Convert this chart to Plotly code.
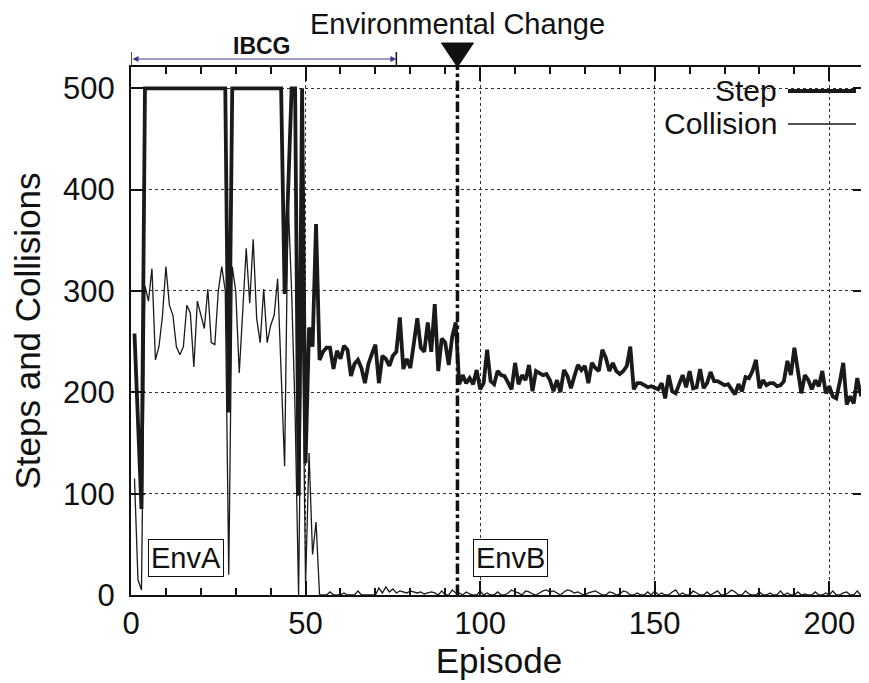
import plotly.graph_objects as go

# ---------------- data ----------------
step_envA = [258, 170, 85] + [500] * 24 + [180] + [500] * 15 + [297, 388, 500, 500, 98, 500, 130]
step_mid = [264, 245, 366, 232, 240, 244, 244, 223, 241, 233,
            246, 242, 216, 228, 232, 224, 209, 228, 238, 247,
            209, 236, 233, 226, 236, 240, 274, 223, 233, 224,
            248, 273, 244, 240, 269, 240, 287, 221, 253, 249,
            227, 255, 269]
step_envB = [208, 217, 209, 214, 208, 222, 203, 209, 242, 211,
             208, 221, 217, 216, 209, 203, 229, 208, 217, 212,
             227, 201, 221, 219, 217, 218, 212, 201, 212, 200,
             222, 216, 204, 216, 227, 222, 226, 209, 229, 224,
             221, 242, 234, 221, 229, 221, 218, 221, 226, 245,
             203, 209, 209, 207, 205, 206, 204, 203, 209, 194,
             217, 201, 199, 209, 217, 205, 221, 204, 205, 223,
             204, 209, 220, 211, 211, 209, 207, 208, 203, 198,
             208, 201, 215, 214, 221, 232, 204, 212, 207, 209,
             209, 206, 207, 211, 231, 217, 244, 219, 199, 217,
             212, 203, 212, 206, 221, 199, 206, 196, 194, 210,
             229, 188, 196, 189, 214, 198, 199]

coll_early = [115, 15, 5, 305, 290, 322, 232, 245, 275, 324,
              286, 276, 245, 237, 245, 286, 278, 225, 290, 275,
              263, 302, 249, 247, 300, 324, 300, 20, 324, 300,
              219, 280, 342, 288, 351, 273, 249, 302, 249, 266,
              276, 312, 220, 127, 390, 300, 180, 0, 300, 10,
              140, 40, 72, 0]
coll_mid = [0, 0, 3, 0, 0, 0, 2, 0, 0, 0,
            4, 0, 0, 0, 0, 0, 7, 2, 8, 3,
            6, 2, 4, 3, 2, 4, 3, 2, 3, 1,
            2, 3, 2, 0, 4, 0, 0, 5, 2]
coll_envB = [2, 0, 3, 1, 0, 0, 4, 0, 2, 0,
             0, 3, 0, 0, 2, 5, 3, 2, 0, 4,
             3, 1, 0, 2, 4, 5, 3, 4, 2, 0,
             3, 5, 4, 2, 3, 1, 0, 2, 3, 4,
             2, 0, 0, 3, 2, 0, 1, 4, 3, 0,
             0, 2, 0, 0, 3, 0, 4, 0, 2, 0,
             0, 3, 5, 0, 2, 0, 0, 4, 2, 0,
             0, 3, 0, 2, 4, 0, 0, 2, 5, 3,
             0, 0, 4, 1, 0, 0, 3, 0, 0, 2,
             0, 0, 4, 0, 2, 0, 0, 3, 0, 1,
             0, 0, 3, 0, 0, 2, 0, 4, 0, 0,
             2, 3, 0, 0, 4, 0, 2]

steps = step_envA + step_mid + step_envB
collisions = coll_early + coll_mid + coll_envB
episodes = list(range(1, len(steps) + 1))

change_episode = 93.5
ibcg_end = 76
x_ticks = [0, 50, 100, 150, 200]
y_ticks = [0, 100, 200, 300, 400, 500]

FONT = "Liberation Sans, Arial, sans-serif"
# page body has an 8px margin, so the figure is sized to fill the window from there
W, H = 861, 675
L, R, T, B = 123, 2, 59, 88
plot_w = W - L - R
plot_h = H - T - B

def py(ref_y):  # reference pixel y -> paper y
    return (595 - ref_y) / plot_h

def px_(ref_x):  # reference pixel x -> paper x
    return (ref_x - 131) / plot_w

fig = go.Figure()
fig.add_trace(go.Scatter(x=episodes, y=collisions, mode="lines", name="Collision",
                         line=dict(color="#1a1a1a", width=1.3), showlegend=False))
fig.add_trace(go.Scatter(x=episodes, y=steps, mode="lines", name="Step",
                         line=dict(color="#1a1a1a", width=3.8), showlegend=False))

# environmental change line
fig.add_shape(type="line", xref="x", yref="paper", x0=change_episode, x1=change_episode,
              y0=0, y1=1, line=dict(color="#111", width=3.5, dash="dashdot"), layer="above")
# triangle marker
tri_w = 16 / 3.485
fig.add_shape(type="path", xref="x", yref="paper",
              path=f"M {change_episode - tri_w},{py(43)} L {change_episode + tri_w},{py(43)} L {change_episode},{py(67)} Z",
              fillcolor="#111", line=dict(color="#111", width=1))
fig.add_annotation(x=change_episode, y=py(24), xref="x", yref="paper", text="Environmental Change",
                   showarrow=False, yanchor="middle", xanchor="center", borderpad=0,
                   font=dict(size=29, family=FONT, color="#111"))

# IBCG range marker
fig.add_annotation(x=ibcg_end, y=py(59), xref="x", yref="paper",
                   ax=0, ay=0, axref="x", ayref="pixel",
                   showarrow=True, arrowhead=2, startarrowhead=2, arrowside="end+start",
                   arrowsize=1, startarrowsize=1, arrowwidth=1.2, arrowcolor="#3a3a8a", text="")
for xv in (0, ibcg_end):
    fig.add_shape(type="line", xref="x", yref="paper", x0=xv, x1=xv, y0=1, y1=py(52),
                  line=dict(color="#111", width=1.5))
fig.add_annotation(x=(0 + ibcg_end) / 2 - 0.5, y=py(46), xref="x", yref="paper", text="<b>IBCG</b>",
                   showarrow=False, yanchor="middle", xanchor="center",
                   font=dict(size=23, family=FONT, color="#111"))

# legend (text then line sample)
fig.add_shape(type="rect", xref="paper", yref="paper",
              x0=px_(698), x1=px_(860), y0=py(140), y1=1,
              fillcolor="white", line=dict(width=0), layer="between")
for label, ypx, lw in (("Step", 91, 3.8), ("Collision", 124, 1.3)):
    fig.add_annotation(x=px_(779), y=py(ypx), xref="paper", yref="paper",
                       text=label, showarrow=False, xanchor="right", yanchor="middle",
                       font=dict(size=30, family=FONT, color="#111"))
    fig.add_shape(type="line", xref="paper", yref="paper",
                  x0=px_(788), x1=px_(856),
                  y0=py(ypx), y1=py(ypx), line=dict(color="#1a1a1a", width=lw))

# environment boxes
for label, xc in (("EnvA", 15.8), ("EnvB", 108.6)):
    fig.add_annotation(x=xc, y=py(558), xref="x", yref="paper", text=label, showarrow=False,
                       yanchor="middle", xanchor="center",
                       font=dict(size=29, family=FONT, color="#111"),
                       bordercolor="#111", borderwidth=1, borderpad=2, bgcolor="white")

axis_common = dict(showline=True, linecolor="#111", linewidth=2, mirror="ticks",
                   ticks="inside", tickcolor="#111", tickwidth=1.5, automargin=False,
                   showgrid=True, gridcolor="#333", gridwidth=1, griddash="dot",
                   zeroline=False, tickfont=dict(size=31, family=FONT, color="#111"))

fig.update_layout(
    width=W, height=H, margin=dict(l=L, r=R, t=T, b=B),
    paper_bgcolor="white", plot_bgcolor="white",
    xaxis=dict(range=[0, 210.8], tickvals=x_ticks, ticklen=14,
               minor=dict(dtick=10, ticks="inside", ticklen=7, tickcolor="#111", showgrid=False),
               title=dict(text="Episode", font=dict(size=35, family=FONT, color="#111"), standoff=6),
               **axis_common),
    yaxis=dict(range=[0, 521], tickvals=y_ticks, ticklen=14, ticklabelstandoff=8,
               title=dict(text="Steps and Collisions", font=dict(size=35, family=FONT, color="#111"), standoff=14),
               **axis_common),
)

fig.write_html("out.html")
